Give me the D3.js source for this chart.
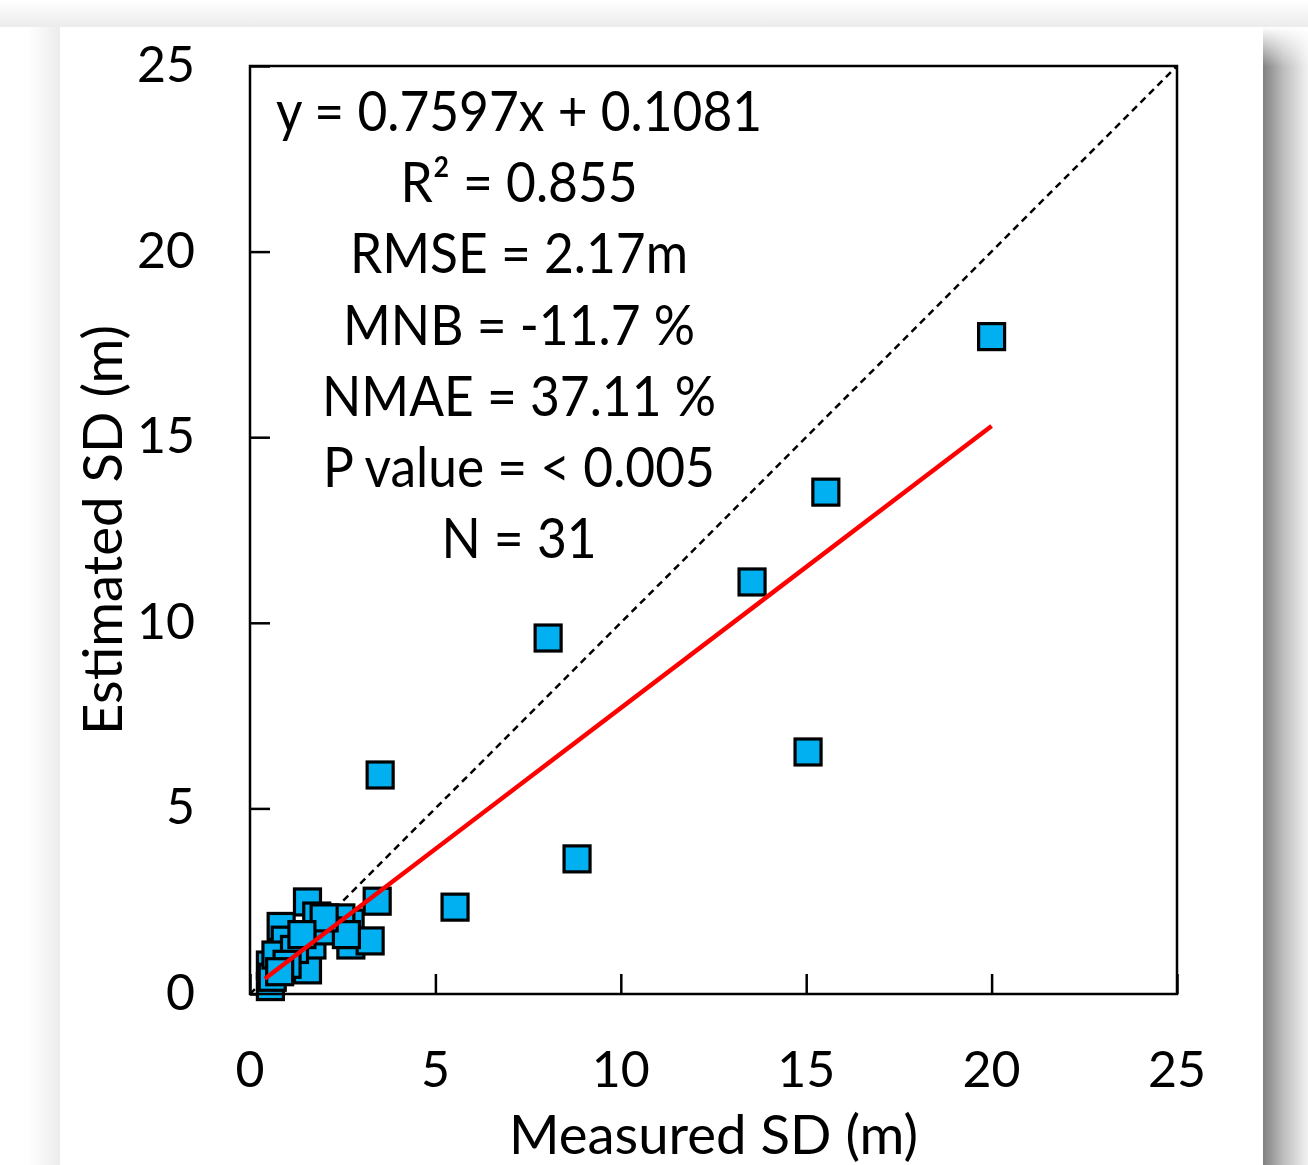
<!DOCTYPE html>
<html>
<head>
<meta charset="utf-8">
<script src="https://cdn.jsdelivr.net/npm/d3@7"></script>
<style>
  html, body { margin: 0; padding: 0; background: #ffffff; }
  svg { display: block; }
  text { font-family: Lato, "Open Sans", "DejaVu Sans", sans-serif; fill: #000; }
</style>
</head>
<body>
<svg id="chart" width="1308" height="1165"></svg>
<script>
// ---- data ----
const measuredSD = [20.0, 15.53, 13.54, 8.04, 15.05, 3.51, 8.82, 5.53, 3.43,
  1.55, 0.84, 0.55, 0.55, 0.60, 1.55, 1.92, 1.67, 2.70, 2.72, 3.24, 2.45,
  0.95, 0.70, 1.20, 1.80, 2.10, 2.60, 1.00, 2.00, 0.80, 1.40];
const estimatedSD = [17.71, 13.52, 11.10, 9.59, 6.52, 5.90, 3.64, 2.34, 2.50,
  2.48, 1.82, 0.78, 0.20, 0.45, 0.65, 1.89, 1.32, 1.91, 1.32, 1.43, 2.05,
  1.45, 1.05, 1.20, 2.10, 1.70, 1.60, 0.80, 2.05, 0.60, 1.60];
const xTicks = [0, 5, 10, 15, 20, 25];
const yTicks = [0, 5, 10, 15, 20, 25];
const fitSlope = 0.7597, fitIntercept = 0.1081;
const fitRange = [0.4, 20.0];
const statLines = ["y = 0.7597x + 0.1081", "R\u00B2 = 0.855", "RMSE = 2.17m",
  "MNB = -11.7 %", "NMAE = 37.11 %", "P value = < 0.005", "N = 31"];
const xLabel = "Measured SD (m)";
const yLabel = "Estimated SD (m)";

// ---- layout ----
const W = 1308, H = 1165;
const plot = { left: 250, top: 66, right: 1177, bottom: 994 };
const svg = d3.select("#chart");

// page background with card + shadow
const defs = svg.append("defs");
const gR = defs.append("linearGradient").attr("id", "shR").attr("x1", 0).attr("x2", 1).attr("y1", 0).attr("y2", 0);
gR.append("stop").attr("offset", 0).attr("stop-color", "#808080");
gR.append("stop").attr("offset", 0.45).attr("stop-color", "#bdbdbd");
gR.append("stop").attr("offset", 1).attr("stop-color", "#f2f2f2");
const gRT = defs.append("linearGradient").attr("id", "shRT").attr("x1", 0).attr("x2", 0).attr("y1", 0).attr("y2", 1);
gRT.append("stop").attr("offset", 0).attr("stop-color", "#ffffff").attr("stop-opacity", 1);
gRT.append("stop").attr("offset", 1).attr("stop-color", "#ffffff").attr("stop-opacity", 0);
const gT = defs.append("linearGradient").attr("id", "shT").attr("x1", 0).attr("x2", 0).attr("y1", 0).attr("y2", 1);
gT.append("stop").attr("offset", 0).attr("stop-color", "#ffffff");
gT.append("stop").attr("offset", 1).attr("stop-color", "#ececec");
const gL = defs.append("linearGradient").attr("id", "shL").attr("x1", 0).attr("x2", 1).attr("y1", 0).attr("y2", 0);
gL.append("stop").attr("offset", 0).attr("stop-color", "#ffffff");
gL.append("stop").attr("offset", 1).attr("stop-color", "#ececec");

svg.append("rect").attr("x", 0).attr("y", 0).attr("width", W).attr("height", H).attr("fill", "#ffffff");
svg.append("rect").attr("x", 0).attr("y", 0).attr("width", W).attr("height", 27).attr("fill", "url(#shT)");
svg.append("rect").attr("x", 28).attr("y", 27).attr("width", 32).attr("height", H).attr("fill", "url(#shL)");
svg.append("rect").attr("x", 1263).attr("y", 27).attr("width", 45).attr("height", H).attr("fill", "url(#shR)");
svg.append("rect").attr("x", 1263).attr("y", 27).attr("width", 45).attr("height", 40).attr("fill", "url(#shRT)");
svg.append("rect").attr("x", 60).attr("y", 27).attr("width", 1203).attr("height", H - 27).attr("fill", "#ffffff");

// ---- scales ----
const x = d3.scaleLinear().domain([0, 25]).range([plot.left, plot.right]);
const y = d3.scaleLinear().domain([0, 25]).range([plot.bottom, plot.top]);

// ticks (inward) via d3 axes
const xAxis = d3.axisBottom(x).tickValues(xTicks).tickSize(-20).tickPadding(0).tickFormat("");
const yAxis = d3.axisLeft(y).tickValues(yTicks).tickSize(-20).tickPadding(0).tickFormat("");
const gx = svg.append("g").attr("transform", `translate(0,${plot.bottom})`).call(xAxis);
const gy = svg.append("g").attr("transform", `translate(${plot.left},0)`).call(yAxis);
[gx, gy].forEach(g => {
  g.select(".domain").remove();
  g.selectAll(".tick line").attr("stroke", "#000").attr("stroke-width", 2.5);
});

// tick labels
svg.append("g").selectAll("text").data(xTicks).join("text")
  .attr("x", d => x(d)).attr("y", 1087)
  .attr("text-anchor", "middle").attr("font-size", 50)
  .text(d => d);
svg.append("g").selectAll("text").data(yTicks).join("text")
  .attr("x", 195).attr("y", d => y(d) + 16)
  .attr("text-anchor", "end").attr("font-size", 50)
  .text(d => d);

// 1:1 line
svg.append("line")
  .attr("x1", x(0)).attr("y1", y(0)).attr("x2", x(25)).attr("y2", y(25))
  .attr("stroke", "#000").attr("stroke-width", 2.5).attr("stroke-dasharray", "7,5");

// points
const pts = measuredSD.map((m, i) => ({ m, e: estimatedSD[i] }));
const sz = 26;
svg.append("g").selectAll("rect").data(pts).join("rect")
  .attr("x", d => x(d.m) - sz / 2).attr("y", d => y(d.e) - sz / 2)
  .attr("width", sz).attr("height", sz)
  .attr("fill", "#00b0f0").attr("stroke", "#000").attr("stroke-width", 3.2);

// regression line
svg.append("line")
  .attr("x1", x(fitRange[0])).attr("y1", y(fitSlope * fitRange[0] + fitIntercept))
  .attr("x2", x(fitRange[1])).attr("y2", y(fitSlope * fitRange[1] + fitIntercept))
  .attr("stroke", "#ff0000").attr("stroke-width", 4.5);

// frame
svg.append("rect")
  .attr("x", plot.left).attr("y", plot.top)
  .attr("width", plot.right - plot.left).attr("height", plot.bottom - plot.top)
  .attr("fill", "none").attr("stroke", "#000").attr("stroke-width", 2.5);

// stats annotation (slightly tall glyphs like the reference)
svg.append("g").selectAll("text").data(statLines).join("text")
  .attr("transform", (d, i) => `translate(519,${131 + i * 71.2}) scale(1,1.08)`)
  .attr("text-anchor", "middle").attr("font-size", 51.5)
  .text(d => d);

// axis titles
svg.append("text").attr("x", (plot.left + plot.right) / 2).attr("y", 1154)
  .attr("text-anchor", "middle").attr("font-size", 54.5).text(xLabel);
svg.append("text")
  .attr("transform", `translate(122,${(plot.top + plot.bottom) / 2}) rotate(-90)`)
  .attr("text-anchor", "middle").attr("font-size", 54.5).text(yLabel);
</script>
</body>
</html>
